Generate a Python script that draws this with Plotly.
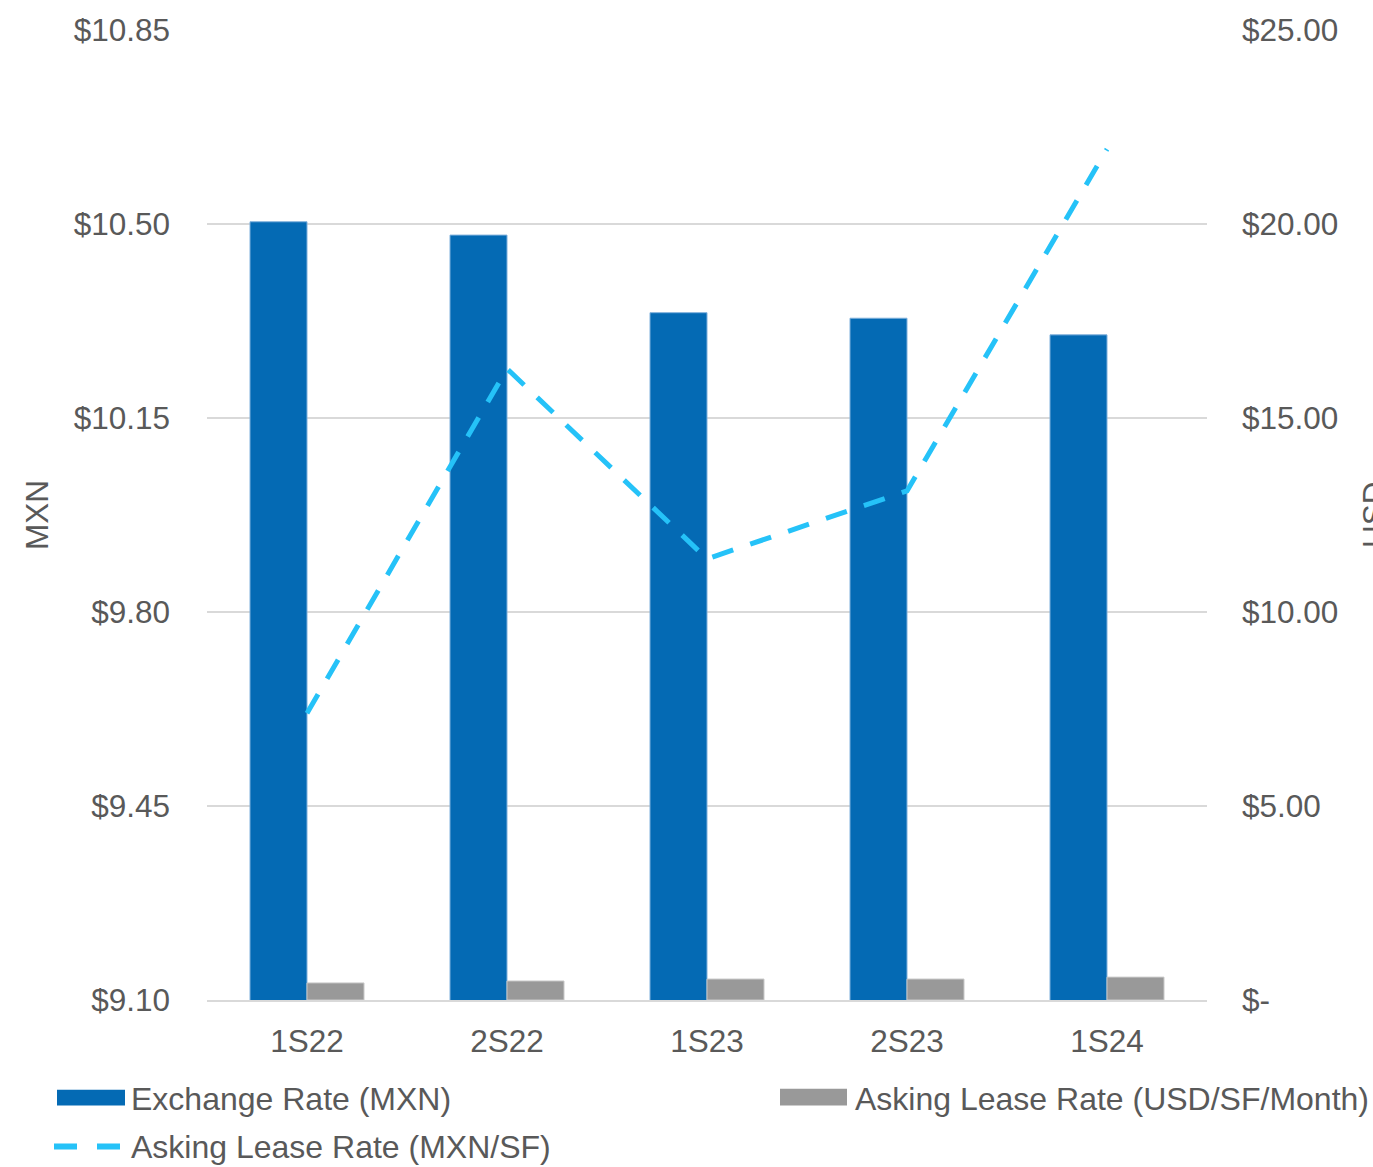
import plotly.graph_objects as go

# Half-year periods on the category axis
periods = ["1S22", "2S22", "1S23", "2S23", "1S24"]

# Series values
exchange_rate_mxn = [10.504, 10.48, 10.34, 10.33, 10.30]     # left axis (MXN)
asking_rate_usd_sf_month = [0.44, 0.49, 0.54, 0.54, 0.59]    # right axis (USD)
asking_rate_mxn_sf = [7.39, 16.27, 11.37, 13.12, 21.93]      # right axis (USD scale)

# Axis ticks
left_tickvals = [9.10, 9.45, 9.80, 10.15, 10.50, 10.85]
left_ticktext = ["$9.10", "$9.45", "$9.80", "$10.15", "$10.50", "$10.85"]
right_tickvals = [0, 5, 10, 15, 20, 25]
right_ticktext = ["$-", "$5.00", "$10.00", "$15.00", "$20.00", "$25.00"]

# Legend labels
label_fx = "Exchange Rate (MXN)"
label_usd = "Asking Lease Rate (USD/SF/Month)"
label_mxn = "Asking Lease Rate (MXN/SF)"

BLUE = "#046AB4"
GREY = "#999999"
CYAN = "#25C2F8"
TEXT = "#595959"
GRID = "#D9D9D9"
FONT = "Liberation Sans, Arial, sans-serif"
FS = 31.5
FS_LEG = 32

W, H = 1373, 1167
ML, MR, MT, MB = 207, 166, 26, 167
PW, PH = W - ML - MR, H - MT - MB


def px_x(px):
    return (px - ML) / PW


def px_y(py):
    return (MT + PH - py) / PH


fig = go.Figure()

fig.add_trace(go.Bar(
    x=periods, y=exchange_rate_mxn, name=label_fx, yaxis="y",
    width=0.285, offset=-0.285,
    marker=dict(color=BLUE, line=dict(color="#7FB0DC", width=1)),
))
fig.add_trace(go.Bar(
    x=periods, y=asking_rate_usd_sf_month, name=label_usd, yaxis="y2",
    width=0.285, offset=0,
    marker=dict(color=GREY, line=dict(color="#C8C8C8", width=1)),
))
fig.add_trace(go.Scatter(
    x=periods, y=asking_rate_mxn_sf, name=label_mxn, yaxis="y2",
    mode="lines",
    line=dict(color=CYAN, width=5, dash="22px,18px"),
))

# Hand-drawn legend: swatches as shapes, labels as annotations
shapes = [
    dict(type="rect", xref="paper", yref="paper",
         x0=px_x(57), x1=px_x(125), y0=px_y(1106), y1=px_y(1090),
         fillcolor=BLUE, line=dict(width=0)),
    dict(type="rect", xref="paper", yref="paper",
         x0=px_x(780), x1=px_x(847), y0=px_y(1106), y1=px_y(1089),
         fillcolor=GREY, line=dict(width=0)),
    dict(type="line", xref="paper", yref="paper",
         x0=px_x(54), x1=px_x(120), y0=px_y(1147), y1=px_y(1147),
         line=dict(color=CYAN, width=6, dash="23px,20px")),
]

leg_font = dict(size=FS_LEG, color=TEXT)
annotations = [
    dict(text=label_fx, xref="paper", yref="paper", x=px_x(129), y=px_y(1099),
         xanchor="left", yanchor="middle", showarrow=False, font=leg_font),
    dict(text=label_usd, xref="paper", yref="paper", x=px_x(853), y=px_y(1099),
         xanchor="left", yanchor="middle", showarrow=False, font=leg_font),
    dict(text=label_mxn, xref="paper", yref="paper", x=px_x(129), y=px_y(1148),
         xanchor="left", yanchor="middle", showarrow=False, font=leg_font),
    dict(text="MXN", xref="paper", yref="paper", x=px_x(37), y=0.5,
         xanchor="center", yanchor="middle", textangle=-90, showarrow=False),
    dict(text="USD", xref="paper", yref="paper", x=px_x(1374), y=0.5,
         xanchor="center", yanchor="middle", textangle=-90, showarrow=False),
]

fig.update_layout(
    width=W, height=H,
    margin=dict(l=ML, r=MR, t=MT, b=MB, pad=0),
    paper_bgcolor="white", plot_bgcolor="white",
    font=dict(family=FONT, size=FS, color=TEXT),
    showlegend=False,
    barmode="overlay",
    xaxis=dict(
        type="category", range=[-0.5, 4.5],
        showline=True, linecolor=GRID, linewidth=2,
        showgrid=False, ticks="", ticklabelstandoff=12,
        tickfont=dict(size=FS, color=TEXT),
    ),
    yaxis=dict(
        range=[9.10, 10.85], tickvals=left_tickvals, ticktext=left_ticktext,
        showgrid=True, gridcolor=GRID, gridwidth=1.5, zeroline=False,
        showline=False, ticks="", ticklabelstandoff=36,
        tickfont=dict(size=FS, color=TEXT),
    ),
    yaxis2=dict(
        overlaying="y", side="right",
        range=[0, 25], tickvals=right_tickvals, ticktext=right_ticktext,
        showgrid=False, zeroline=False, showline=False,
        ticks="", ticklabelstandoff=34,
        tickfont=dict(size=FS, color=TEXT),
    ),
    shapes=shapes,
    annotations=annotations,
)

fig.write_html("out.html")
